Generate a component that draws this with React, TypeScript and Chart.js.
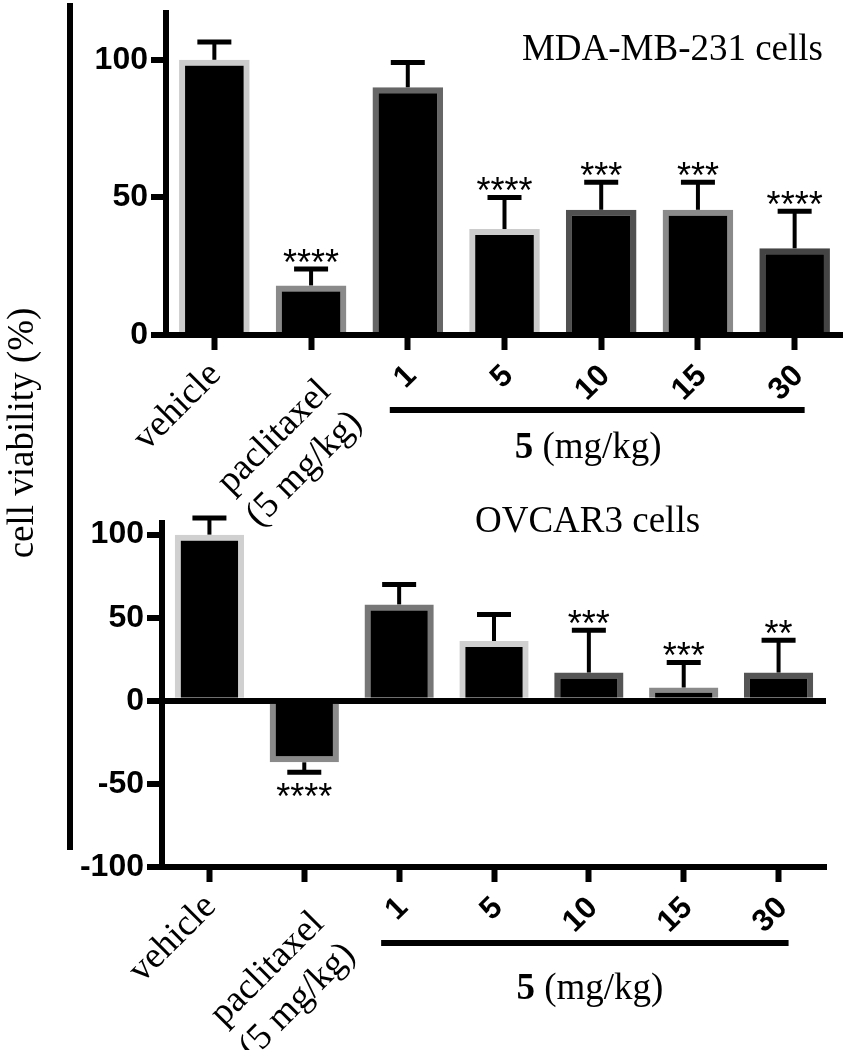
import React, { useEffect, useRef } from 'react';
import { Chart, registerables } from 'chart.js';

Chart.register(...registerables);

// ---------- data ----------
const categories: (string | string[])[] = ['vehicle', ['paclitaxel', '(5 mg/kg)'], '1', '5', '10', '15', '30'];

// MDA-MB-231 cells (top panel)
const mdaValues = [100, 18, 90, 38.5, 45.5, 45.5, 31.5];
const mdaErrors = [6.5, 6, 9, 11.5, 10, 10, 13.5];
const mdaStars = ['', '****', '', '****', '***', '***', '****'];

// OVCAR3 cells (bottom panel)
const ovcarValues = [100, -37, 58, 36, 17, 8, 17];
const ovcarErrors = [10, 6, 12, 16, 25.5, 15, 19.5];
const ovcarStars = ['', '****', '', '', '***', '***', '**'];

const mdaTicks = [0, 50, 100];
const ovcarTicks = [-100, -50, 0, 50, 100];

// ---------- styles ----------
const mdaBorders = ['#cccccc', '#8a8a8a', '#666666', '#cccccc', '#505050', '#8a8a8a', '#444444'];
const ovcarBorders = ['#d0d0d0', '#8a8a8a', '#777777', '#d0d0d0', '#555555', '#8a8a8a', '#555555'];

const SERIF = '"Liberation Serif", "Times New Roman", serif';
const SANS = '"Liberation Sans", Arial, Helvetica, sans-serif';

type Panel = {
  values: number[];
  errors: number[];
  stars: string[];
  ticks: number[];
  borders: string[];
  min: number;
  max: number;
  padding: { top: number; left: number; right: number; bottom: number };
  yWidth: number;
  title: string;
  titleX: number;
  titleY: number;
  titleAlign: CanvasTextAlign;
  bracketDy: number;
  groupDy: number;
  groupDx: number;
  drawSideLabel: boolean;
};

const W = 843;
const H = 1050;

function makeDecor(p: Panel) {
  return {
    id: 'decor',
    afterDatasetsDraw(chart: any) {
      const ctx: CanvasRenderingContext2D = chart.ctx;
      const xs = chart.scales.x;
      const ys = chart.scales.y;
      ctx.save();
      ctx.strokeStyle = '#000';
      ctx.fillStyle = '#000';
      p.values.forEach((v, i) => {
        const cx = xs.getPixelForValue(i);
        const y0 = ys.getPixelForValue(v);
        const e = v >= 0 ? v + p.errors[i] : v - p.errors[i];
        const y1 = ys.getPixelForValue(e);
        ctx.lineCap = 'butt';
        ctx.lineWidth = 4;
        ctx.beginPath();
        ctx.moveTo(cx, y0);
        ctx.lineTo(cx, y1);
        ctx.stroke();
        ctx.lineWidth = 5;
        ctx.beginPath();
        ctx.moveTo(cx - 17, y1);
        ctx.lineTo(cx + 17, y1);
        ctx.stroke();
        if (p.stars[i]) {
          const fs = 36;
          ctx.font = `${fs}px ${SANS}`;
          ctx.textAlign = 'center';
          ctx.textBaseline = 'alphabetic';
          const centerY = v >= 0 ? y1 - 15 : y1 + 16;
          ctx.fillText(p.stars[i], cx, centerY + 0.575 * fs);
        }
      });
      ctx.restore();
    },
    afterDraw(chart: any) {
      const ctx: CanvasRenderingContext2D = chart.ctx;
      const xs = chart.scales.x;
      const axisY = chart.chartArea.bottom;
      ctx.save();
      ctx.fillStyle = '#000';
      ctx.strokeStyle = '#000';
      // category labels, rotated 45 degrees
      categories.forEach((c, i) => {
        const tx = xs.getPixelForValue(i);
        if (i < 2) {
          const lines = Array.isArray(c) ? c : [c];
          ctx.font = `37px ${SERIF}`;
          ctx.textAlign = 'right';
          ctx.textBaseline = 'alphabetic';
          ctx.save();
          ctx.translate(tx + (i === 0 ? 8 : 21), axisY + (i === 0 ? 41 : 58));
          ctx.rotate(-Math.PI / 4);
          lines.forEach((ln, j) => ctx.fillText(ln, 0, j * 44));
          ctx.restore();
        } else {
          ctx.font = `bold 31px ${SANS}`;
          ctx.textAlign = 'right';
          ctx.textBaseline = 'alphabetic';
          ctx.save();
          ctx.translate(tx + 10, axisY + 42);
          ctx.rotate(-Math.PI / 4);
          ctx.fillText(String(c), 0, 0);
          ctx.restore();
        }
      });
      // group bracket
      const x1 = xs.getPixelForValue(2);
      const x2 = xs.getPixelForValue(6);
      ctx.lineWidth = 6;
      ctx.beginPath();
      ctx.moveTo(x1 - 18, axisY + p.bracketDy);
      ctx.lineTo(x2 + 10, axisY + p.bracketDy);
      ctx.stroke();
      // group label: bold "5" + " (mg/kg)"
      const fb = `bold 37px ${SERIF}`;
      const fr = `37px ${SERIF}`;
      ctx.font = fb;
      const w1 = ctx.measureText('5').width;
      ctx.font = fr;
      const w2 = ctx.measureText(' (mg/kg)').width;
      const sx = (x1 + x2) / 2 + p.groupDx - (w1 + w2) / 2;
      ctx.textAlign = 'left';
      ctx.textBaseline = 'alphabetic';
      ctx.font = fb;
      ctx.fillText('5', sx, axisY + p.groupDy);
      ctx.font = fr;
      ctx.fillText(' (mg/kg)', sx + w1, axisY + p.groupDy);
      // panel title
      ctx.font = `37px ${SERIF}`;
      ctx.textAlign = p.titleAlign;
      ctx.fillText(p.title, p.titleX, p.titleY);
      // shared y-axis title and rule
      if (p.drawSideLabel) {
        ctx.lineWidth = 6;
        ctx.beginPath();
        ctx.moveTo(70, 3);
        ctx.lineTo(70, 850);
        ctx.stroke();
        ctx.save();
        ctx.translate(33, 433);
        ctx.rotate(-Math.PI / 2);
        ctx.textAlign = 'center';
        ctx.textBaseline = 'alphabetic';
        ctx.font = `37px ${SERIF}`;
        ctx.fillText('cell viability (%)', 0, 0);
        ctx.restore();
      }
      ctx.restore();
    },
  };
}

function buildChart(canvas: HTMLCanvasElement, p: Panel) {
  return new Chart(canvas, {
    type: 'bar',
    data: {
      labels: categories as any,
      datasets: [
        {
          data: p.values,
          backgroundColor: '#000000',
          borderColor: p.borders,
          borderWidth: 6,
          borderSkipped: 'start',
          barPercentage: 0.73,
          categoryPercentage: 1,
        } as any,
      ],
    },
    options: {
      responsive: false,
      animation: false,
      devicePixelRatio: 1,
      layout: { padding: p.padding },
      plugins: {
        legend: { display: false },
        tooltip: { enabled: false },
        title: { display: false },
      },
      scales: {
        x: {
          type: 'category',
          offset: true,
          grid: {
            display: true,
            offset: false,
            drawOnChartArea: false,
            drawTicks: true,
            tickLength: 15,
            tickWidth: 6,
            tickColor: '#000',
          },
          border: { display: true, color: '#000', width: 6 },
          ticks: { display: false },
          afterFit: (s: any) => {
            s.height = 100;
            s.paddingLeft = 0;
            s.paddingRight = 0;
          },
        },
        y: {
          min: p.min,
          max: p.max,
          afterBuildTicks: (s: any) => {
            s.ticks = p.ticks.map((v) => ({ value: v }));
          },
          ticks: {
            color: '#000',
            padding: 3,
            font: { family: SANS, size: 32, weight: 'bold' },
          },
          grid: {
            display: true,
            drawOnChartArea: true,
            drawTicks: true,
            tickLength: 15,
            tickWidth: 6,
            tickColor: '#000',
            color: (c: any) => (c.tick && c.tick.value === 0 ? '#000' : 'rgba(0,0,0,0)'),
            lineWidth: (c: any) => (c.tick && c.tick.value === 0 ? 6 : 0),
          },
          border: { display: true, color: '#000', width: 6 },
          afterFit: (s: any) => {
            s.width = p.yWidth;
            s.paddingTop = 0;
            s.paddingBottom = 0;
          },
        },
      },
    } as any,
    plugins: [makeDecor(p) as any],
  });
}

const topPanel: Panel = {
  values: mdaValues,
  errors: mdaErrors,
  stars: mdaStars,
  ticks: mdaTicks,
  borders: mdaBorders,
  min: 0,
  max: 117,
  padding: { top: 13, left: 0, right: 0, bottom: H - 335 - 100 },
  yWidth: 166,
  title: 'MDA-MB-231 cells',
  titleX: 823,
  titleY: 60,
  titleAlign: 'right',
  bracketDy: 75,
  groupDy: 123,
  groupDx: -13,
  drawSideLabel: true,
};

const bottomPanel: Panel = {
  values: ovcarValues,
  errors: ovcarErrors,
  stars: ovcarStars,
  ticks: ovcarTicks,
  borders: ovcarBorders,
  min: -100,
  max: 107,
  padding: { top: 523, left: 0, right: 17, bottom: H - 867 - 100 },
  yWidth: 162,
  title: 'OVCAR3 cells',
  titleX: 475,
  titleY: 532,
  titleAlign: 'left',
  bracketDy: 76,
  groupDy: 132,
  groupDx: 1,
  drawSideLabel: false,
};

export default function App() {
  const topRef = useRef<HTMLCanvasElement | null>(null);
  const bottomRef = useRef<HTMLCanvasElement | null>(null);

  useEffect(() => {
    const a = buildChart(topRef.current as HTMLCanvasElement, topPanel);
    const b = buildChart(bottomRef.current as HTMLCanvasElement, bottomPanel);
    return () => {
      a.destroy();
      b.destroy();
    };
  }, []);

  const cs: React.CSSProperties = { position: 'absolute', left: 0, top: 0, width: W, height: H };
  return (
    <div style={{ position: 'absolute', left: 0, top: 0, width: W, height: H, background: '#fff' }}>
      <canvas ref={topRef} width={W} height={H} style={cs} />
      <canvas ref={bottomRef} width={W} height={H} style={cs} />
    </div>
  );
}
